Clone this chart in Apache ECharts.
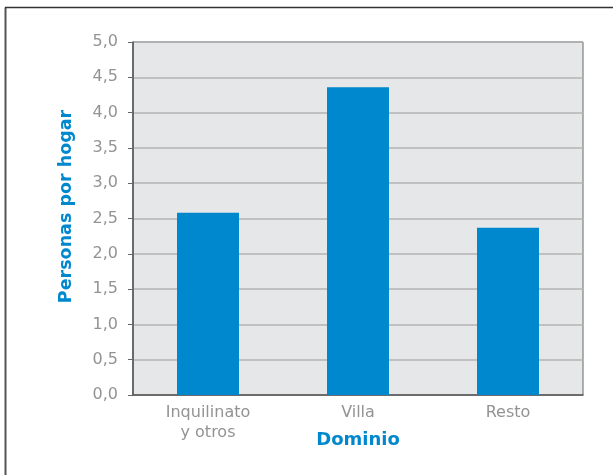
<!DOCTYPE html>
<html>
<head>
<meta charset="utf-8">
<script src="https://cdn.jsdelivr.net/npm/echarts@6/dist/echarts.min.js"></script>
<style>
  html, body { margin: 0; padding: 0; background: #fff; }
  #chart { width: 613px; height: 475px; }
</style>
</head>
<body>
<div id="chart"></div>
<script>
const categories = ['Inquilinato\ny otros', 'Villa', 'Resto'];
const personasPorHogar = [2.58, 4.36, 2.37];

const chart = echarts.init(document.getElementById('chart'));
chart.setOption({
  animation: false,
  textStyle: { fontFamily: 'DejaVu Sans' },
  // frame: only left and top edges are visible
  graphic: [
    { type: 'line', shape: { x1: 5.5, y1: 7.5, x2: 5.5, y2: 480 }, style: { stroke: '#555', lineWidth: 2 } },
    { type: 'line', shape: { x1: 5, y1: 7.5, x2: 620, y2: 7.5 }, style: { stroke: '#333', lineWidth: 1.5 } }
  ],
  grid: {
    left: 133, right: 30, top: 42, bottom: 80,
    show: true,
    backgroundColor: '#e6e7e8',
    borderColor: '#666',
    borderWidth: 1
  },
  xAxis: {
    type: 'category',
    data: categories,
    name: 'Dominio',
    nameLocation: 'middle',
    nameGap: 36,
    nameMoveOverlap: false,
    nameTextStyle: { color: '#0088ce', fontSize: 18, fontWeight: 'bold' },
    axisLine: { lineStyle: { color: '#555', width: 1.5 } },
    axisTick: { length: 6, lineStyle: { color: '#666' } },
    axisLabel: { color: '#939393', fontSize: 16, lineHeight: 20, margin: 8 }
  },
  yAxis: {
    type: 'value',
    min: 0, max: 5, interval: 0.5,
    name: 'Personas por hogar',
    nameLocation: 'middle',
    nameGap: 58,
    nameMoveOverlap: false,
    nameTextStyle: { color: '#0088ce', fontSize: 17.5, fontWeight: 'bold', padding: [0, 0, 0, 24] },
    axisLine: { show: true, lineStyle: { color: '#555', width: 1.5 } },
    axisTick: { show: true, length: 5, lineStyle: { color: '#666' } },
    axisLabel: {
      color: '#939393', fontSize: 16, margin: 15,
      formatter: v => v.toFixed(1).replace('.', ',')
    },
    splitLine: { lineStyle: { color: '#b3b3b3', width: 1.5 } }
  },
  series: [{
    type: 'bar',
    data: personasPorHogar,
    barWidth: 62,
    itemStyle: { color: '#0088ce' }
  }]
});
</script>
</body>
</html>
